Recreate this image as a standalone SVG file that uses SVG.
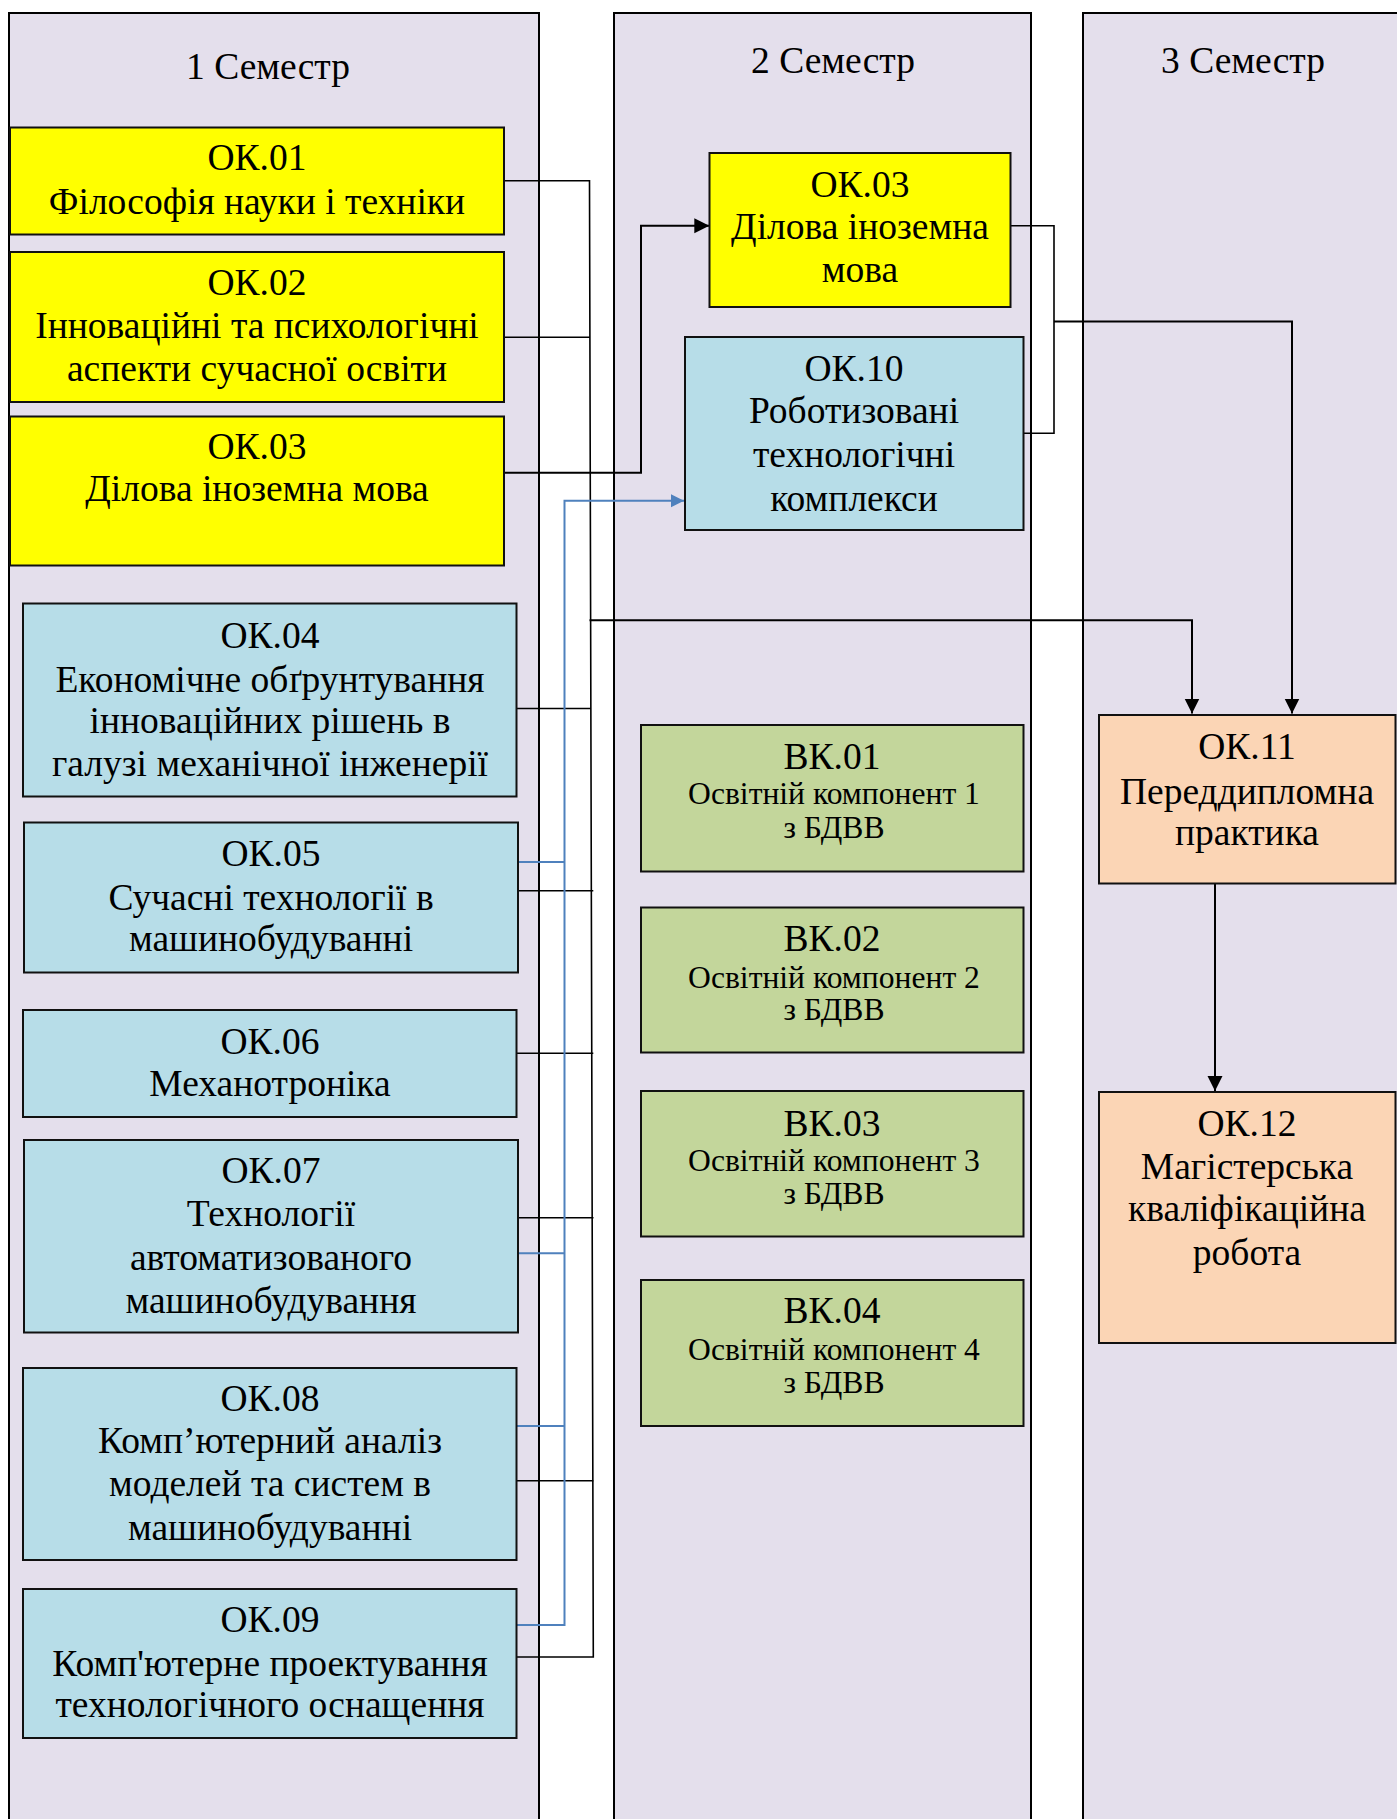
<svg xmlns="http://www.w3.org/2000/svg" width="1397" height="1819" viewBox="0 0 1397 1819">
<style>
.col{fill:#E4DFEC;stroke:#000;stroke-width:2}
.y{fill:#FFFF00;stroke:#111;stroke-width:2}
.b{fill:#B7DDE8;stroke:#111;stroke-width:2}
.g{fill:#C3D69B;stroke:#111;stroke-width:2}
.o{fill:#FBD5B5;stroke:#111;stroke-width:2}
text{font-family:"Liberation Serif","Times New Roman",serif;font-size:37.5px;text-anchor:middle;fill:#000}
.s{font-size:31.6px}
.c{fill:none;stroke:#000;stroke-width:1.6}
.c2{fill:none;stroke:#000;stroke-width:2}
.cb{fill:none;stroke:#4F81BD;stroke-width:2}
</style>
<defs>
<marker id="ah" markerUnits="userSpaceOnUse" markerWidth="16" markerHeight="16" refX="15" refY="7.5" orient="auto">
<path d="M0,0 L15,7.5 L0,15 z" fill="#000"/>
</marker>
<marker id="ahb" markerUnits="userSpaceOnUse" markerWidth="14" markerHeight="14" refX="13" refY="6.5" orient="auto">
<path d="M0,0 L13,6.5 L0,13 z" fill="#4F81BD"/>
</marker>
</defs>
<g id="columns">
<rect class="col" x="9" y="13" width="530" height="1830"/>
<rect class="col" x="614" y="13" width="417" height="1830"/>
<rect class="col" x="1083" y="13" width="340" height="1830"/>
<text x="268" y="78.5">1 Семестр</text>
<text x="833" y="72.7">2 Семестр</text>
<text x="1243" y="72.7">3 Семестр</text>
</g>
<g id="connectors">
<path class="c" d="M503.5,180.7 H589.5 L593.3,1657 H517"/>
<path class="c" d="M504,337.3 H590"/>
<path class="c" d="M516.5,708.5 H590.8"/>
<path class="c" d="M518,890.7 H593.3"/>
<path class="c" d="M516.5,1053.3 H593.3"/>
<path class="c" d="M518,1217.8 H593.5"/>
<path class="c" d="M516.5,1480.7 H593.3"/>
<path class="c2" d="M589.5,620.2 H1192 V713.5" marker-end="url(#ah)"/>
<path class="c2" d="M504,472.7 H641 V225.8 H709.3" marker-end="url(#ah)"/>
<path class="c" d="M1010.3,225.8 H1054 V433.2 H1023.5"/>
<path class="c2" d="M1054,321.5 H1292 V713.5" marker-end="url(#ah)"/>
<path class="c2" d="M1215,883.5 V1091" marker-end="url(#ah)"/>
<path class="cb" d="M518,862 H564.5"/>
<path class="cb" d="M518,1253.3 H564.5"/>
<path class="cb" d="M516.5,1426 H564.5"/>
<path class="cb" d="M516.5,1625 H564.5 V500.7 H684" marker-end="url(#ahb)"/>
</g>
<g id="ok01"><rect class="y" x="10" y="127.5" width="494" height="107"/>
<text x="257" y="170">ОК.01</text><text x="257" y="213.5">Філософія науки і техніки</text></g>
<g id="ok02"><rect class="y" x="10" y="252" width="494" height="150"/>
<text x="257" y="295.4">ОК.02</text><text x="257" y="338">Інноваційні та психологічні</text><text x="257" y="380.8">аспекти сучасної освіти</text></g>
<g id="ok03a"><rect class="y" x="10" y="416.5" width="494" height="149"/>
<text x="257" y="459">ОК.03</text><text x="257" y="501">Ділова іноземна мова</text></g>
<g id="ok04"><rect class="b" x="23" y="603.5" width="493.5" height="193"/>
<text x="270" y="647.6">ОК.04</text><text x="270" y="692">Економічне обґрунтування</text><text x="270" y="733.4">інноваційних рішень в</text><text x="270" y="775.7">галузі механічної інженерії</text></g>
<g id="ok05"><rect class="b" x="24" y="822.5" width="494" height="150"/>
<text x="271" y="866">ОК.05</text><text x="271" y="909.6">Сучасні технології в</text><text x="271" y="951">машинобудуванні</text></g>
<g id="ok06"><rect class="b" x="23" y="1010" width="493.5" height="107"/>
<text x="270" y="1054">ОК.06</text><text x="270" y="1096">Механотроніка</text></g>
<g id="ok07"><rect class="b" x="24" y="1140" width="494" height="192.5"/>
<text x="271" y="1183">ОК.07</text><text x="271" y="1225.7">Технології</text><text x="271" y="1270">автоматизованого</text><text x="271" y="1312.5">машинобудування</text></g>
<g id="ok08"><rect class="b" x="23" y="1368" width="493.5" height="192"/>
<text x="270" y="1411">ОК.08</text><text x="270" y="1452.7">Комп’ютерний аналіз</text><text x="270" y="1496">моделей та систем в</text><text x="270" y="1539.5">машинобудуванні</text></g>
<g id="ok09"><rect class="b" x="23" y="1589" width="493.5" height="149"/>
<text x="270" y="1632.3">ОК.09</text><text x="270" y="1675.7">Комп'ютерне проектування</text><text x="270" y="1717">технологічного оснащення</text></g>
<g id="ok03b"><rect class="y" x="709.5" y="153" width="301" height="154"/>
<text x="860" y="197">ОК.03</text><text x="860" y="239">Ділова іноземна</text><text x="860" y="282.4">мова</text></g>
<g id="ok10"><rect class="b" x="685" y="337" width="338.5" height="193"/>
<text x="854" y="380.8">ОК.10</text><text x="854" y="423">Роботизовані</text><text x="854" y="467">технологічні</text><text x="854" y="511">комплекси</text></g>
<g id="bk01"><rect class="g" x="641" y="725" width="382.5" height="146.5"/>
<text x="832" y="768.6">ВК.01</text><text class="s" x="834" y="804">Освітній компонент 1</text><text class="s" x="834" y="838">з БДВВ</text></g>
<g id="bk02"><rect class="g" x="641" y="907.5" width="382.5" height="145"/>
<text x="832" y="951">ВК.02</text><text class="s" x="834" y="988.4">Освітній компонент 2</text><text class="s" x="834" y="1020.3">з БДВВ</text></g>
<g id="bk03"><rect class="g" x="641" y="1091" width="382.5" height="145.5"/>
<text x="832" y="1135.5">ВК.03</text><text class="s" x="834" y="1170.8">Освітній компонент 3</text><text class="s" x="834" y="1204">з БДВВ</text></g>
<g id="bk04"><rect class="g" x="641" y="1280" width="382.5" height="146"/>
<text x="832" y="1323">ВК.04</text><text class="s" x="834" y="1360">Освітній компонент 4</text><text class="s" x="834" y="1392.7">з БДВВ</text></g>
<g id="ok11"><rect class="o" x="1099" y="715" width="296.5" height="168.5"/>
<text x="1247" y="759">ОК.11</text><text x="1247" y="804">Переддипломна</text><text x="1247" y="845">практика</text></g>
<g id="ok12"><rect class="o" x="1099" y="1092" width="296.5" height="251"/>
<text x="1247" y="1135.5">ОК.12</text><text x="1247" y="1179">Магістерська</text><text x="1247" y="1220.5">кваліфікаційна</text><text x="1247" y="1265">робота</text></g>
</svg>
